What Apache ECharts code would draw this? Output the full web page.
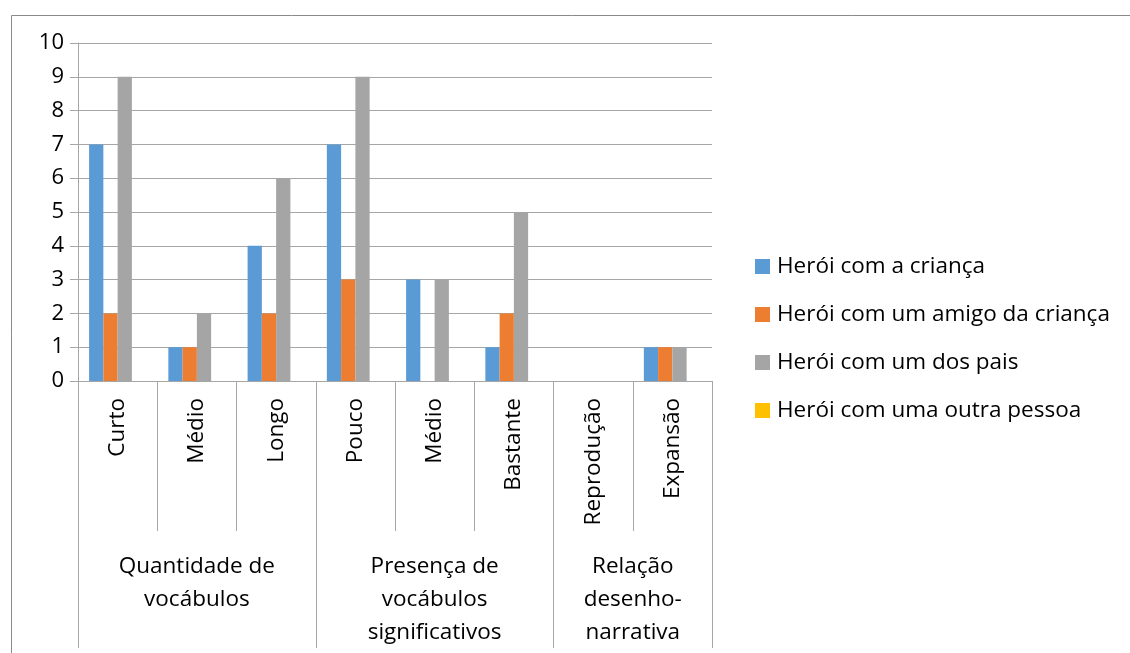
<!DOCTYPE html>
<html>
<head>
<meta charset="utf-8">
<script src="https://cdn.jsdelivr.net/npm/echarts@6/dist/echarts.min.js"></script>
<style>
html, body { margin: 0; padding: 0; background: #fff; }
#chart { width: 1130px; height: 653px; }
</style>
</head>
<body>
<div id="chart"></div>
<script>
const categories = ['Curto', 'Médio', 'Longo', 'Pouco', 'Médio', 'Bastante', 'Reprodução', 'Expansão']
const groups = ['Quantidade de\nvocábulos', 'Presença de\nvocábulos\nsignificativos', 'Relação\ndesenho-\nnarrativa']
const groupBounds = [0, 3, 6, 8]
const groupCenters = [1.5, 4.5, 7]
const seriesNames = ['Herói com a criança', 'Herói com um amigo da criança', 'Herói com um dos pais', 'Herói com uma outra pessoa']
const heroChild = [7, 1, 4, 7, 3, 1, 0, 1]
const heroFriend = [2, 1, 2, 3, 0, 2, 0, 1]
const heroParent = [9, 2, 6, 9, 3, 5, 0, 1]
const heroOther = [0, 0, 0, 0, 0, 0, 0, 0]
const yTicks = [0, 10, 1]

const colors = ['#5B9BD5', '#ED7D31', '#A5A5A5', '#FFC000']
const font = '"Open Sans", sans-serif'
const lineColor = '#a6a6a6'

const chart = echarts.init(document.getElementById('chart'))

const values = [heroChild, heroFriend, heroParent, heroOther]

chart.setOption({
  animation: false,
  color: colors,
  textStyle: { fontFamily: font },
  graphic: [
    {
      type: 'rect',
      left: 9,
      top: 13,
      shape: { width: 1200, height: 700 },
      style: { fill: 'none', stroke: '#8a8a8a', lineWidth: 1 },
      z: -1
    }
  ],
  grid: { left: 78, right: 418, top: 43, bottom: 272 },
  legend: {
    orient: 'vertical',
    left: 750,
    top: 250,
    itemWidth: 15,
    itemHeight: 15,
    itemGap: 25,
    icon: 'rect',
    textStyle: { fontSize: 22.5, lineHeight: 20, color: '#000', fontFamily: font, padding: [0, 0, 0, 2] },
    data: seriesNames
  },
  xAxis: [
    {
      type: 'category',
      data: categories,
      axisLine: { lineStyle: { color: lineColor } },
      axisTick: { show: true, interval: 0, alignWithLabel: false, length: 150, lineStyle: { color: lineColor } },
      axisLabel: { rotate: 90, interval: 0, margin: 17, fontSize: 22.5, color: '#000', fontFamily: font }
    },
    {
      type: 'value',
      min: groupBounds[0],
      max: groupBounds[groupBounds.length - 1],
      position: 'bottom',
      offset: 150,
      axisLine: { show: false },
      splitLine: { show: false },
      axisTick: { show: true, customValues: groupBounds, length: 117, lineStyle: { color: lineColor } },
      axisLabel: {
        customValues: groupCenters,
        margin: 19,
        fontSize: 22.5,
        lineHeight: 33,
        color: '#000',
        fontFamily: font,
        formatter: v => groups[groupCenters.indexOf(v)]
      }
    }
  ],
  yAxis: {
    type: 'value',
    min: yTicks[0],
    max: yTicks[1],
    interval: yTicks[2],
    axisLine: { show: true, lineStyle: { color: lineColor } },
    axisTick: { show: true, length: 8, lineStyle: { color: lineColor } },
    splitLine: { lineStyle: { color: lineColor } },
    axisLabel: { fontSize: 22, color: '#000', margin: 14, fontFamily: font }
  },
  series: seriesNames.map((name, i) => ({
    name: name,
    type: 'bar',
    data: values[i],
    barGap: '0%',
    barCategoryGap: '28%'
  }))
})
</script>
</body>
</html>
